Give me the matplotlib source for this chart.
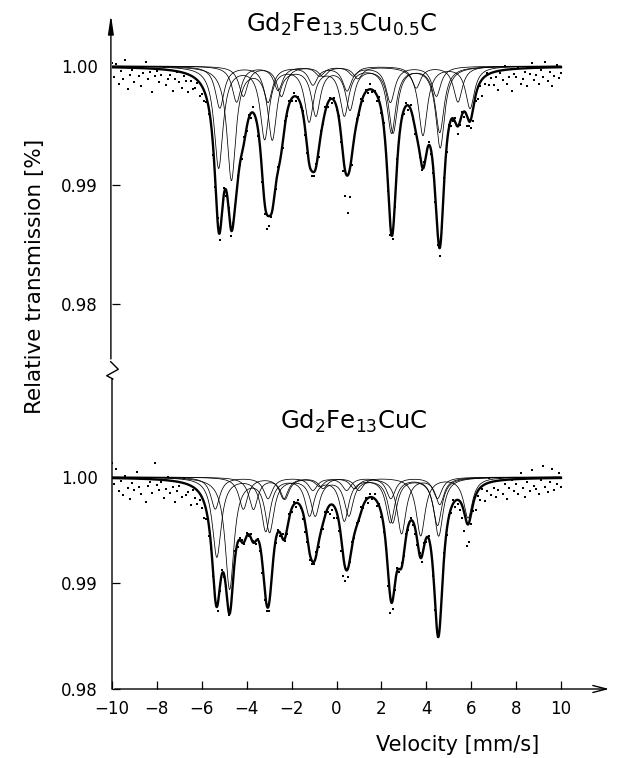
import numpy as np
import matplotlib
matplotlib.use('Agg')
import matplotlib.pyplot as plt
from matplotlib.lines import Line2D
from matplotlib.patches import FancyArrowPatch

# ---------------- data ----------------
# Sub-spectra (sextets): six line positions [mm/s] and depths [1e-3]
upper_pos = [
    [-5.25, -3.20, -1.22, 0.35, 2.45, 4.62],
    [-4.68, -2.86, -0.92, 0.60, 2.52, 4.60],
    [-5.20, -3.05, -1.05, 0.47, 2.40, 4.45],
    [-4.15, -2.45, -0.60, 0.95, 3.85, 5.95],
    [-4.45, -2.60, -0.75, 0.75, 3.55, 5.41],
]
upper_depth = [
    [8.5, 6.0, 4.5, 4.0, 5.5, 6.8],
    [9.5, 6.0, 4.0, 3.5, 5.5, 5.5],
    [3.5, 3.0, 1.5, 2.0, 3.0, 2.5],
    [2.5, 2.5, 0.8, 1.0, 5.8, 3.5],
    [3.0, 2.0, 0.8, 0.8, 1.8, 3.0],
]
lower_pos = [
    [-5.33, -3.15, -1.20, 0.35, 2.40, 4.50],
    [-4.76, -2.98, -0.95, 0.55, 2.50, 4.55],
    [-4.15, -2.35, -0.60, 1.00, 3.75, 5.86],
    [-3.70, -2.30, -0.75, 0.80, 2.90, 4.60],
    [-5.40, -3.05, -1.05, 0.45, 2.42, 4.50],
]
lower_depth = [
    [7.5, 5.0, 3.5, 4.0, 4.2, 4.5],
    [10.5, 5.0, 3.5, 3.5, 4.2, 5.5],
    [3.0, 2.0, 1.0, 1.2, 5.5, 3.8],
    [3.0, 2.0, 0.8, 1.0, 5.3, 2.5],
    [3.0, 2.0, 1.2, 1.2, 2.0, 2.0],
]
hwhm = 0.24

# measured points: channel velocities and deviation from the fit [1e-4]
v_points = np.round(np.arange(-10.0, 10.001, 0.1), 2)
upper_res = [
    4, -8, 3, -14, -3, -10, 6, -18, -6, -2,
    -12, 1, -7, -15, -4, 5, -9, -3, -20, -6,
    -2, -11, -5, 2, -13, -8, -4, -17, -7, -1,
    -9, -13, -3, -6, -15, -5, -10, -8, -2, -11,
    -7, -9, -4, -6, -3, -8, -5, 2, -6, -2,
    3, -4, 2, -5, 1, -3, 4, -2, -6, 3,
    -3, 2, -4, 5, -2, -6, 1, -4, -9, -12,
    -8, -3, 2, -5, 3, -2, -4, 4, -3, 2,
    -2, 3, -4, 1, -3, 2, -5, -3, -2, -4,
    -3, 2, -5, 3, -2, 4, -3, 1, -4, 2,
    -3, 1, -6, -12, -20, -32, -24, -10, -4, 3,
    -2, 3, -4, 2, -3, 4, -2, 1, -5, 3,
    -2, 2, -4, -3, -8, -5, -3, 4, -2, 3,
    -3, 2, -4, 3, -2, -5, 2, -4, -3, 4,
    -2, 3, -4, -6, -5, -11, -7, -3, 2, -4,
    3, -5, -2, 4, -6, -3, 2, -5, -9, -4,
    -8, -12, -5, -10, -3, -14, -6, 2, -9, -4,
    -11, -5, -16, -2, -8, 3, -12, -6, -18, -4,
    -7, 1, -13, -9, -3, -15, -5, 4, -10, -6,
    -14, -2, -8, 5, -11, -4, -16, -7, 2, -9, -5,
]
lower_res = [
    14, -6, 9, -12, -3, -16, 2, -9, -19, -4,
    -11, 6, -8, -14, 1, -22, -7, -3, -13, 15,
    -5, -10, -2, -17, -8, 3, -12, -6, -20, -9,
    -4, -14, 5, -11, -7, -18, -3, -9, -13, -6,
    -10, -15, -8, -12, -6, -4, 2, -5, -3, 3,
    -2, 4, -3, 2, -5, 3, -4, 2, 3, -2,
    3, -2, 4, 2, -3, 1, -4, -8, -10, -5,
    -7, -3, 3, -4, 2, -3, 4, -2, -5, 3,
    -3, 2, -4, 3, -2, -6, -9, -4, -7, -3,
    -2, 3, -4, 2, -5, 3, -3, -8, -5, -11,
    -6, -9, -14, -19, -12, -7, -3, 2, -4, 3,
    -2, 4, -3, 2, -5, 3, -2, 4, -4, 2,
    -3, -6, -4, -12, -14, -8, -5, 3, -3, 4,
    -2, 3, -4, 2, -3, -6, -4, 2, -5, 3,
    -4, 2, -3, -5, -4, -2, 3, -4, 2, -3,
    2, -4, 3, -6, -4, -8, -12, -16, -22, -18,
    -10, -8, -14, -5, -11, -3, -16, -7, 4, -12,
    -6, -15, -9, 2, -13, -4, -18, -8, -1, -11,
    -5, -14, 6, -9, -17, -3, -12, 8, -7, -10,
    -15, -2, 12, -8, -13, -4, 9, -11, -6, 5, -9,
]

upper_title = 'Gd$_2$Fe$_{13.5}$Cu$_{0.5}$C'
lower_title = 'Gd$_2$Fe$_{13}$CuC'
x_ticks = [-10, -8, -6, -4, -2, 0, 2, 4, 6, 8, 10]
y_ticks = [0.98, 0.99, 1.00]


def sextet(v, pos, depth):
    out = np.zeros_like(v)
    for p, d in zip(pos, depth):
        out += d * 1e-3 / (1 + ((v - p) / hwhm) ** 2)
    return out


W, H = 620, 758


def fx(px):
    return px / W


def fy(py):
    return 1 - py / H


fig = plt.figure(figsize=(6.2, 7.58), dpi=100)
fig.patch.set_facecolor('white')

x0, x1 = 112, 612
xlim = (-10, 10 + (x1 - 561) / 22.45)

axL = fig.add_axes([fx(x0), fy(689), fx(x1) - fx(x0), (689 - 400) / H])
axU = fig.add_axes([fx(x0), fy(372), fx(x1) - fx(x0), (372 - 12) / H])
axL.set_ylim(0.98, 0.98 + (689 - 400) / 10600)
axU.set_ylim(1.0 - (372 - 66) / 11900, 1.0 + (66 - 12) / 11900)

v = np.linspace(-10, 10, 1601)
for ax, pos_list, dep_list, res in [(axU, upper_pos, upper_depth, upper_res),
                                     (axL, lower_pos, lower_depth, lower_res)]:
    total = np.zeros_like(v)
    total_pts = np.zeros_like(v_points)
    for pos, dep in zip(pos_list, dep_list):
        comp = sextet(v, pos, dep)
        total += comp
        total_pts += sextet(v_points, pos, dep)
        ax.plot(v, 1 - comp, color='black', lw=0.55)
    ax.plot(v, 1 - total, color='black', lw=1.7)
    ax.plot(v_points, 1 - total_pts + np.array(res) * 1e-4, 's',
            color='black', ms=1.7, mew=0)
    ax.set_xlim(*xlim)
    for s in ax.spines.values():
        s.set_visible(False)
    ax.set_facecolor('none')
    ax.set_yticks(y_ticks)
    ax.set_yticklabels(['0.98', '0.99', '1.00'])
    ax.tick_params(axis='y', direction='in', length=6, width=0.9, pad=10,
                   labelsize=12, left=True)

axU.tick_params(axis='x', bottom=False, labelbottom=False)
axL.set_xticks(x_ticks)
axL.set_xticklabels([str(t).replace('-', '\u2212') for t in x_ticks])
axL.tick_params(axis='x', direction='in', length=6, width=0.9, pad=8,
                labelsize=12)

# axes lines with arrows and break mark
fig.add_artist(FancyArrowPatch((fx(x0), fy(689)), (fx(x1), fy(689)),
                               transform=fig.transFigure,
                               arrowstyle='->,head_width=0.18,head_length=0.7',
                               mutation_scale=14, lw=1.0, color='black'))
fig.add_artist(Line2D([fx(x0), fx(x0), fx(113), fx(106.7), fx(118.3), fx(110.7)],
                      [fy(689), fy(379), fy(379), fy(375.7), fy(369.3), fy(361.7)],
                      transform=fig.transFigure, color='black', lw=1.0))
fig.add_artist(FancyArrowPatch((fx(110.9), fy(361.7)), (fx(110.9), fy(12)),
                               transform=fig.transFigure,
                               arrowstyle='-|>,head_width=0.12,head_length=0.8',
                               mutation_scale=14, lw=1.0, color='black'))

fig.text(fx(342), fy(32), upper_title, ha='center', va='baseline', fontsize=17.5)
fig.text(fx(354), fy(429), lower_title, ha='center', va='baseline', fontsize=17.5)
fig.text(fx(35), fy(276), 'Relative transmission [%]', rotation=90,
         ha='center', va='center', fontsize=15.5)
fig.text(fx(458), fy(745), 'Velocity [mm/s]', ha='center', va='center',
         fontsize=15)

fig.savefig('out.png', dpi=100, facecolor='white')
